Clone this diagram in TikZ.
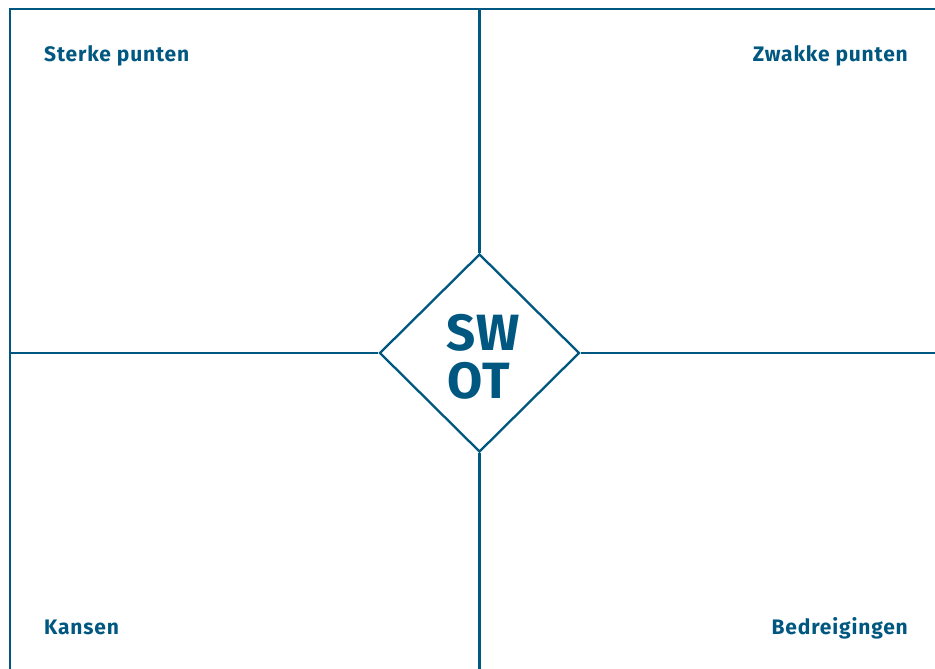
\documentclass[tikz,border=0pt]{standalone}
\usepackage{fontspec}
\setmainfont{Fira Sans}
\usetikzlibrary{shapes.geometric}
\definecolor{swotblue}{RGB}{0,87,128}
\tikzset{
  frameline/.style={draw=swotblue,line width=2.3pt},
  quadlabel/.style={text=swotblue,font=\bfseries\fontsize{21}{24}\selectfont\addfontfeature{LetterSpace=4},inner sep=0pt},
  swotlabel/.style={text=swotblue,font=\bfseries\fontsize{51}{56}\selectfont\addfontfeature{LetterSpace=4},inner sep=0pt,anchor=base}
}
\begin{document}
\begin{tikzpicture}[x=1pt,y=-1pt]
\useasboundingbox (0,0) rectangle (935,669);
% corners / free ends
\coordinate (tl) at (10,9);
\coordinate (tr) at (936,9);
\coordinate (bl) at (10,670);
\coordinate (vt) at (479.5,9);
\coordinate (vb) at (479.5,670);
\coordinate (hl) at (10,353);
\coordinate (hr) at (936,353);
% diamond
\node[diamond, frameline, minimum width=200pt, minimum height=198pt, inner sep=0pt] (d) at (479.5,353) {};
% frame
\draw[frameline] (bl) -- (tl) -- (tr);
% cross
\draw[frameline] (vt) -- (d.north);
\draw[frameline] (d.south) -- (vb);
\draw[frameline] (hl) -- (d.west);
\draw[frameline] (d.east) -- (hr);
% labels
\node[quadlabel, anchor=base west] (s) at (44,62) {Sterke punten};
\node[quadlabel, anchor=base east] (w) at (908,62) {Zwakke punten};
\node[quadlabel, anchor=base west] (o) at (44,634) {Kansen};
\node[quadlabel, anchor=base east] (t) at (908,634) {Bedreigingen};
\node[swotlabel] (sw) at (483,350) {SW};
\node[swotlabel] (ot) at (479,398) {OT};
\end{tikzpicture}
\end{document}
